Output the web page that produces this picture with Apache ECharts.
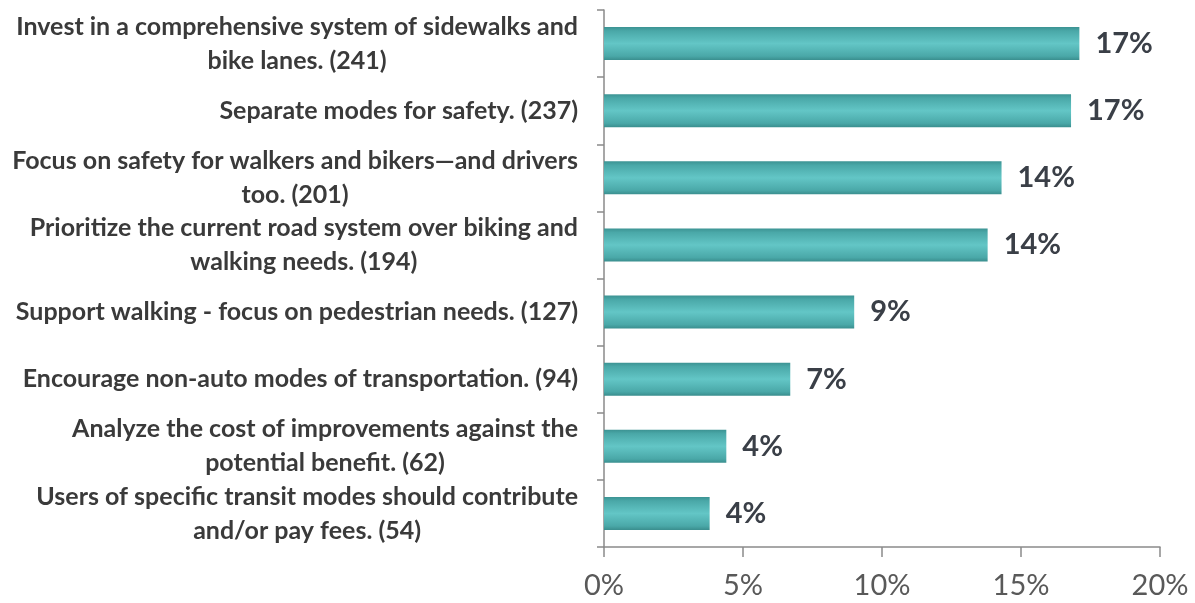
<!DOCTYPE html>
<html><head><meta charset="utf-8">
<script src="https://cdn.jsdelivr.net/npm/echarts@6/dist/echarts.min.js"></script>
<style>html,body{margin:0;padding:0;background:#fff}#c{width:1195px;height:603px}</style>
</head><body><div id="c"></div>
<script>
const categories = [
  "Invest in a comprehensive system of sidewalks and\nbike lanes. (241)",
  "Separate modes for safety. (237)",
  "Focus on safety for walkers and bikers\u2014and drivers\ntoo. (201)",
  "Prioritize the current road system over biking and\nwalking needs. (194)",
  "Support walking - focus on pedestrian needs. (127)",
  "Encourage non-auto modes of transportation. (94)",
  "Analyze the cost of improvements against the\npotential benefit. (62)",
  "Users of specific transit modes should contribute\nand/or pay fees. (54)"
];
const percentValues = [17.1, 16.8, 14.3, 13.8, 9.0, 6.7, 4.4, 3.8];
const xTicks = [0, 5, 10, 15, 20];

const chart = echarts.init(document.getElementById('c'));
chart.setOption({
  animation: false,
  backgroundColor: '#fff',
  grid: {left: 604, right: 35, top: 10, bottom: 56, containLabel: false},
  xAxis: {
    type: 'value', min: xTicks[0], max: xTicks[xTicks.length - 1], interval: 5,
    splitLine: {show: false},
    axisLine: {show: true, lineStyle: {color: '#8a8a8a', width: 1.5}},
    axisTick: {show: true, length: 10, lineStyle: {color: '#8a8a8a', width: 1.5}},
    axisLabel: {formatter: v => v + '%', color: '#595959', fontSize: 29, fontFamily: 'Lato', margin: 24}
  },
  yAxis: {
    type: 'category', data: categories, inverse: true,
    axisLine: {show: true, lineStyle: {color: '#8a8a8a', width: 1.5}},
    axisTick: {show: true, length: 7, lineStyle: {color: '#8a8a8a', width: 1.5}},
    axisLabel: {
      margin: 26, align: 'right',
      formatter: v => v.split('\n').map(l => '{t|' + l + '}').join('\n'),
      rich: {t: {align: 'center', color: '#3a3a3a', fontSize: 25, fontWeight: 'bold', fontFamily: 'Lato', lineHeight: 34}}
    }
  },
  series: [{
    type: 'bar', data: percentValues, barWidth: 33,
    itemStyle: {
      color: new echarts.graphic.LinearGradient(0, 0, 0, 1, [
        {offset: 0, color: '#3c9393'},
        {offset: 0.12, color: '#4aa8a8'},
        {offset: 0.5, color: '#63c6c6'},
        {offset: 0.88, color: '#4aa8a8'},
        {offset: 1, color: '#3a8e8e'}
      ])
    },
    label: {
      show: true, position: 'right', distance: 16,
      formatter: p => Math.round(p.value) + '%',
      color: '#3a3f47', fontSize: 29, fontWeight: 'bold', fontFamily: 'Lato'
    }
  }]
});
</script></body></html>
